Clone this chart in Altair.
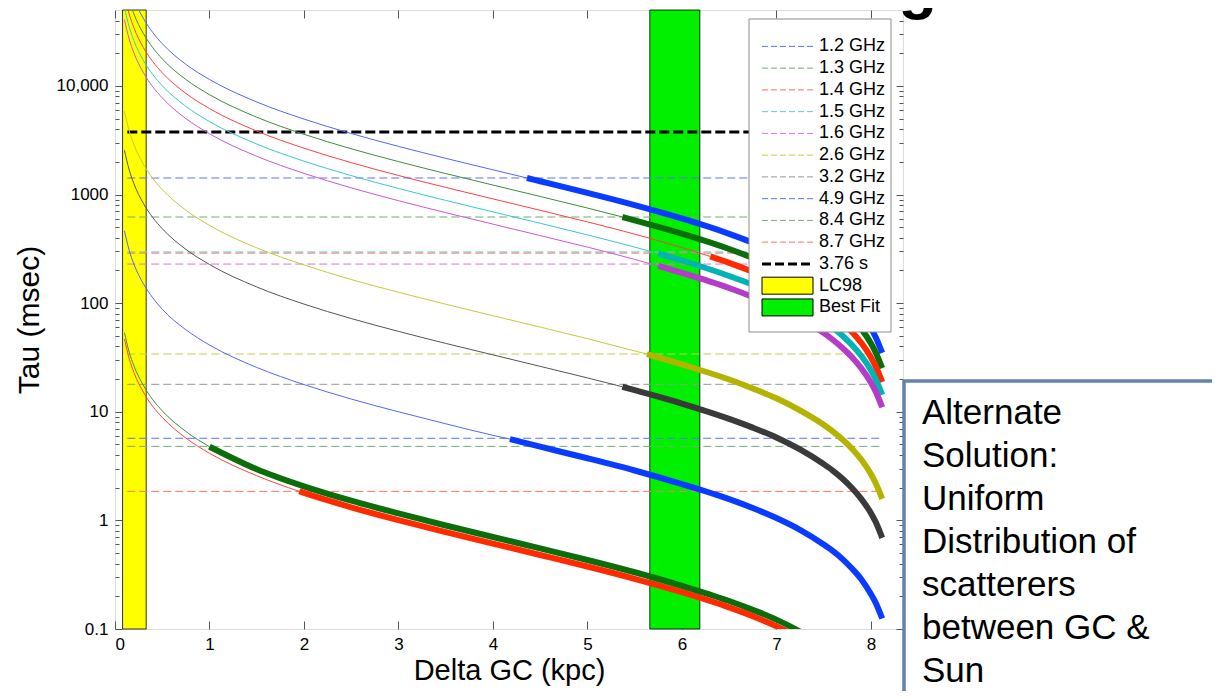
import altair as alt
import pandas as pd

FONT = "Liberation Sans"

# ---------------- data ----------------
series_labels = ["1.2 GHz", "1.3 GHz", "1.4 GHz", "1.5 GHz", "1.6 GHz",
                 "2.6 GHz", "3.2 GHz", "4.9 GHz", "8.4 GHz", "8.7 GHz"]

delta_grid = [0.1, 0.15, 0.2, 0.3, 0.4, 0.5, 0.75, 1.0, 1.5, 2.0, 2.5, 3.0,
              3.5, 4.0, 4.5, 5.0, 5.5, 6.0, 6.5, 6.75, 7.0, 7.25, 7.5, 7.6,
              7.7, 7.8, 7.9, 8.0, 8.05, 8.12]

tau_1p2 = [128800, 85300, 63600, 41900, 31000, 24500, 15800, 11470, 7120, 4950, 3645, 2776,
           2154, 1689, 1326, 1037, 800, 602, 435, 360.7, 292, 227.5, 168, 144.7,
           122.4, 100.6, 79.5, 58.9, 48.8, 34.8]
tau_1p3 = [93300, 61800, 46100, 30400, 22500, 17750, 11460, 8310, 5155, 3585, 2640, 2011,
           1560, 1223, 960, 751, 579, 436, 315, 261.3, 212, 164.8, 122, 104.8,
           88.6, 72.8, 57.6, 42.7, 35.3, 25.2]
tau_1p4 = [69500, 46000, 34300, 22600, 16750, 13230, 8540, 6190, 3841, 2671, 1967, 1498,
           1163, 912, 716, 560, 432, 325, 235, 194.7, 158, 122.8, 90.7, 78.1,
           66.1, 54.3, 42.9, 31.8, 26.3, 18.8]
tau_1p5 = [52800, 35000, 26100, 17200, 12720, 10050, 6485, 4700, 2917, 2029, 1494, 1138,
           883, 692, 544, 425, 328, 247, 178, 147.9, 120, 93.3, 68.9, 59.3,
           50.2, 41.2, 32.6, 24.2, 20.0, 14.3]
tau_1p6 = [40750, 27000, 20130, 13270, 9816, 7753, 5005, 3628, 2251, 1566, 1153, 878,
           681, 534, 419, 328, 253, 190, 138, 114.1, 92.4, 72.0, 53.2, 45.8,
           38.7, 31.8, 25.1, 18.6, 15.4, 11.0]
tau_2p6 = [5847, 3872, 2888, 1904, 1408, 1112, 718, 520, 323, 225, 165, 126,
           97.8, 76.6, 60.2, 47.1, 36.3, 27.3, 19.8, 16.4, 13.3, 10.3, 7.6, 6.57,
           5.55, 4.57, 3.61, 2.67, 2.21, 1.58]
tau_3p2 = [2550, 1689, 1260, 830, 614, 485, 313, 227, 141, 98, 72.2, 55,
           42.6, 33.4, 26.2, 20.5, 15.8, 11.9, 8.6, 7.14, 5.8, 4.50, 3.3, 2.86,
           2.42, 1.99, 1.57, 1.17, 0.97, 0.69]
tau_4p9 = [463, 307, 229, 151, 112, 88, 56.9, 41.2, 25.6, 17.8, 13.1, 10.0,
           7.75, 6.07, 4.77, 3.73, 2.88, 2.16, 1.57, 1.30, 1.05, 0.818, 0.60, 0.520,
           0.440, 0.36, 0.286, 0.21, 0.175, 0.125]
tau_8p4 = [53.6, 35.5, 26.5, 17.5, 12.9, 10.2, 6.59, 4.77, 2.96, 2.06, 1.52, 1.16,
           0.897, 0.703, 0.552, 0.432, 0.333, 0.250, 0.181, 0.150, 0.122, 0.0947, 0.070, 0.060,
           0.051, 0.042, 0.033, 0.0245, 0.020, 0.0145]
tau_8p7 = [46.7, 30.9, 23.0, 15.2, 11.2, 8.88, 5.73, 4.15, 2.58, 1.79, 1.32, 1.005,
           0.780, 0.612, 0.480, 0.376, 0.290, 0.218, 0.158, 0.131, 0.106, 0.0824, 0.061, 0.052,
           0.044, 0.036, 0.029, 0.021, 0.018, 0.0126]

# where each curve turns thick
thick_start_delta = [4.36, 5.37, 6.30, 5.75, 5.75, 5.63, 5.37, 4.18, 1.00, 1.95]
thick_start_tau = [1420, 621, 269, 286, 220, 34, 17.0, 5.6, 4.77, 1.85]

# horizontal dashed levels (msec)
dashed_level = [1420, 621, 289, 296, 229, 34, 17.9, 5.7, 4.8, 1.85]
dash_from = 0.13
dash_to = 8.12

period_label = "3.76 s"
period_ms = 3760

band_labels = ["LC98", "Best Fit"]
band_from = [0.08, 5.66]
band_to = [0.33, 6.19]

x_ticks = [0, 1, 2, 3, 4, 5, 6, 7, 8]
y_major = [0.1, 1, 10, 100, 1000, 10000]
y_minor = [0.2, 0.3, 0.4, 0.5, 0.6, 0.7, 0.8, 0.9,
           2, 3, 4, 5, 6, 7, 8, 9,
           20, 30, 40, 50, 60, 70, 80, 90,
           200, 300, 400, 500, 600, 700, 800, 900,
           2000, 3000, 4000, 5000, 6000, 7000, 8000, 9000,
           20000, 30000, 40000]

title_text = "Distance for the GC Scattering Screen"
box_lines = ["Alternate", "Solution:", "Uniform", "Distribution of",
             "scatterers", "between GC &", "Sun"]

# ---------------- styles ----------------
thin_colors = ["#5466ff", "#3f8c3f", "#ff4040", "#3cc8c8", "#cc58d2",
               "#c8c83c", "#555555", "#5466ff", "#3f8c3f", "#ff4040"]
thick_colors = ["#0a3cff", "#0b6e0b", "#ff2a00", "#00b4b4", "#b43cc8",
                "#b4b400", "#3a3a3a", "#0a3cff", "#0b6e0b", "#ff2a00"]
dash_colors = ["#5f70ff", "#74ad74", "#ff6a5e", "#5ccccc", "#da74da",
               "#cccc48", "#959595", "#5f70ff", "#74ad74", "#ff7466"]
band_colors = ["#ffff00", "#00f000"]

W, H = 788, 619
PAD = {"left": 107, "top": 2, "right": 309, "bottom": 62}

# ---------------- tables ----------------
tau_by_series = [tau_1p2, tau_1p3, tau_1p4, tau_1p5, tau_1p6,
                 tau_2p6, tau_3p2, tau_4p9, tau_8p4, tau_8p7]

thin_rows, thick_rows = [], []
for i, lab in enumerate(series_labels):
    s = thick_start_delta[i]
    start = dict(series=lab, delta=s, tau=thick_start_tau[i])
    for d, t in zip(delta_grid, tau_by_series[i]):
        row = dict(series=lab, delta=d, tau=t)
        if d < s:
            thin_rows.append(dict(row, color=thin_colors[i]))
        elif d > s:
            thick_rows.append(dict(row, color=thick_colors[i]))
    thin_rows.append(dict(start, color=thin_colors[i]))
    thick_rows.append(dict(start, color=thick_colors[i]))
df_thin = pd.DataFrame(thin_rows)
df_thick = pd.DataFrame(thick_rows)

df_dash = pd.DataFrame({"series": series_labels, "level": dashed_level,
                        "x0": dash_from, "x1": dash_to, "color": dash_colors})
df_period = pd.DataFrame({"series": [period_label], "level": [period_ms],
                          "x0": [dash_from], "x1": [dash_to]})
df_bands = pd.DataFrame({"name": band_labels, "x0": band_from, "x1": band_to,
                         "y0": [0.1, 0.1], "y1": [50000, 50000], "color": band_colors})

X_SCALE = alt.Scale(domain=[0, 8.34], nice=False, zero=False)
Y_SCALE = alt.Scale(type="log", domain=[0.1, 50000], nice=False)

# ---------------- main plot layers ----------------
bands = alt.Chart(df_bands).mark_rect(stroke="black", strokeWidth=0.8).encode(
    x=alt.X("x0:Q", scale=X_SCALE, axis=None), x2="x1:Q",
    y=alt.Y("y0:Q", scale=Y_SCALE, axis=None), y2="y1:Q",
    fill=alt.Fill("color:N", scale=None))

dashed = alt.Chart(df_dash).mark_rule(strokeDash=[8, 4], strokeWidth=1).encode(
    x=alt.X("x0:Q", scale=X_SCALE, axis=None), x2="x1:Q",
    y=alt.Y("level:Q", scale=Y_SCALE, axis=None),
    color=alt.Color("color:N", scale=None))

period = alt.Chart(df_period).mark_rule(strokeDash=[10, 4], strokeWidth=3, color="black").encode(
    x=alt.X("x0:Q", scale=X_SCALE, axis=None), x2="x1:Q",
    y=alt.Y("level:Q", scale=Y_SCALE, axis=None))

thin = alt.Chart(df_thin).mark_line(strokeWidth=1, clip=True, interpolate="monotone").encode(
    x=alt.X("delta:Q", scale=X_SCALE, axis=None),
    y=alt.Y("tau:Q", scale=Y_SCALE, axis=None),
    color=alt.Color("color:N", scale=None),
    detail="series:N")

thick = alt.Chart(df_thick).mark_line(strokeWidth=6, strokeCap="butt", clip=True,
                                      interpolate="monotone").encode(
    x=alt.X("delta:Q", scale=X_SCALE, axis=None),
    y=alt.Y("tau:Q", scale=Y_SCALE, axis=None),
    color=alt.Color("color:N", scale=None),
    detail="series:N")

axis_df = pd.DataFrame({"a": [1.0]})
TICKC = "#555555"


def x_axis_layer(axis):
    return alt.Chart(axis_df).mark_point(opacity=0).encode(
        x=alt.X("a:Q", scale=X_SCALE, axis=axis))


def y_axis_layer(axis):
    return alt.Chart(axis_df).mark_point(opacity=0).encode(
        y=alt.Y("a:Q", scale=Y_SCALE, axis=axis))


tick_only = dict(labels=False, domain=False, grid=False, title=None,
                 tickColor=TICKC, tickWidth=1)

ax_bottom = x_axis_layer(alt.Axis(
    orient="bottom", values=x_ticks, format="d", ticks=False, tickSize=0,
    domain=False, grid=False, labelFont=FONT, labelFontSize=17, labelColor="black",
    labelPadding=7, title="Delta GC (kpc)", titleFont=FONT, titleFontSize=29,
    titleFontWeight="normal", titleColor="black", titlePadding=4))
ax_bottom_t = x_axis_layer(alt.Axis(orient="bottom", values=x_ticks, tickSize=8, offset=-8, **tick_only))
ax_top_t = x_axis_layer(alt.Axis(orient="top", values=x_ticks, tickSize=8, offset=-8, **tick_only))

ax_left = y_axis_layer(alt.Axis(
    orient="left", values=y_major,
    labelExpr="datum.value >= 10000 ? format(datum.value, ',') : format(datum.value, '~g')",
    ticks=False, tickSize=0, domain=False, grid=False, labelFont=FONT, labelFontSize=17,
    labelColor="black", labelPadding=7, title="Tau (msec)", titleFont=FONT,
    titleFontSize=30, titleFontWeight="normal", titleColor="black", titlePadding=12))
ax_left_t = y_axis_layer(alt.Axis(orient="left", values=y_major, tickSize=7, offset=-7, **tick_only))
ax_left_m = y_axis_layer(alt.Axis(orient="left", values=y_minor, tickSize=4, offset=-4, **tick_only))
ax_right_t = y_axis_layer(alt.Axis(orient="right", values=y_major, tickSize=7, offset=-7, **tick_only))
ax_right_m = y_axis_layer(alt.Axis(orient="right", values=y_minor, tickSize=4, offset=-4, **tick_only))

main = alt.layer(bands, dashed, period, thin, thick,
                 ax_bottom, ax_bottom_t, ax_top_t,
                 ax_left, ax_left_t, ax_left_m, ax_right_t, ax_right_m
                 ).resolve_axis(x="independent", y="independent")

# ---------------- legend / annotations ----------------
legend_labels = series_labels + [period_label] + band_labels
LEG_Y = alt.Scale(type="point", domain=legend_labels, range=[25.5, 308.3])

df_leg_lines = pd.DataFrame({"label": series_labels, "color": dash_colors})
df_leg_period = pd.DataFrame({"label": [period_label]})
df_leg_bands = pd.DataFrame({"label": band_labels, "color": band_colors})
df_leg_text = pd.DataFrame({"label": legend_labels})
one = pd.DataFrame({"k": [0]})

leg_box = alt.Chart(one).mark_rect(fill="white", stroke="#8c8c8c", strokeWidth=1).encode(
    x=alt.value(634), x2=alt.value(776), y=alt.value(9), y2=alt.value(322))

leg_lines = alt.Chart(df_leg_lines).mark_rule(strokeDash=[6, 3], strokeWidth=1).encode(
    x=alt.value(647), x2=alt.value(698),
    y=alt.Y("label:N", scale=LEG_Y, axis=None),
    color=alt.Color("color:N", scale=None))

leg_period = alt.Chart(df_leg_period).mark_rule(strokeDash=[9, 4], strokeWidth=3, color="black").encode(
    x=alt.value(647), x2=alt.value(698),
    y=alt.Y("label:N", scale=LEG_Y, axis=None))

leg_bands = alt.Chart(df_leg_bands).mark_point(
    shape="M-1,-0.333H1V0.333H-1Z", size=2601, filled=True, opacity=1,
    stroke="black", strokeWidth=1).encode(
    x=alt.value(672.5),
    y=alt.Y("label:N", scale=LEG_Y, axis=None),
    fill=alt.Fill("color:N", scale=None))

leg_text = alt.Chart(df_leg_text).mark_text(
    align="left", baseline="middle", font=FONT, fontSize=18, color="black").encode(
    x=alt.value(704),
    y=alt.Y("label:N", scale=LEG_Y, axis=None),
    text="label:N")

title_mark = alt.Chart(one).mark_text(
    text=title_text, font=FONT, fontSize=63, fontWeight="bold", color="black",
    align="center", baseline="alphabetic").encode(x=alt.value(479), y=alt.value(-3))

text_box = alt.Chart(one).mark_rect(fill="white", stroke="#6283ab", strokeWidth=3.5).encode(
    x=alt.value(789), x2=alt.value(1115), y=alt.value(371), y2=alt.value(700))

box_text = alt.Chart(one).mark_text(
    text=box_lines, font=FONT, fontSize=35, color="black", align="left",
    baseline="alphabetic", lineHeight=43).encode(x=alt.value(807), y=alt.value(414))

overlay = alt.layer(leg_box, leg_lines, leg_period, leg_bands, leg_text,
                    title_mark, text_box, box_text)

chart = alt.layer(main, overlay).resolve_scale(x="independent", y="independent").properties(
    width=W, height=H, padding=PAD, autosize=alt.AutoSizeParams(type="none"),
    background="white"
).configure_view(stroke="#808080", strokeWidth=1.5).configure(font=FONT)

chart.save("out.html", embed_options={"renderer": "svg", "actions": False})
